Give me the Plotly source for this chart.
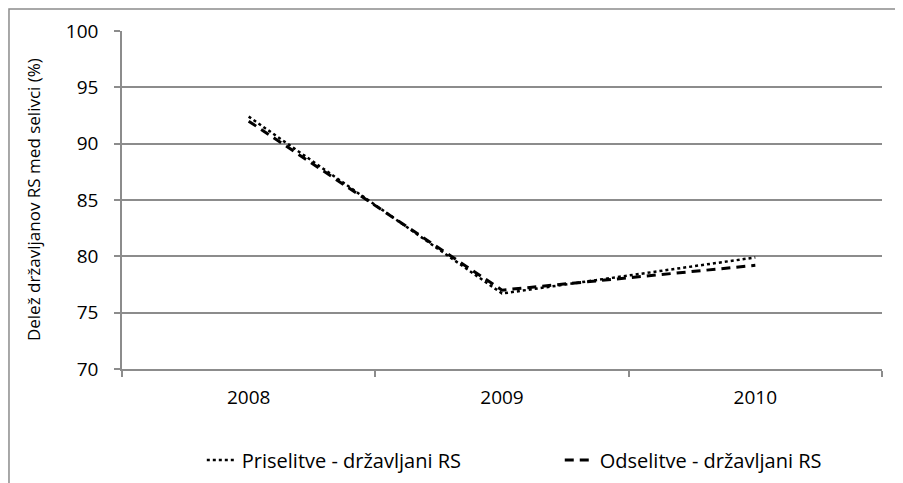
import plotly.graph_objects as go

years = ["2008", "2009", "2010"]
priselitve = [92.4, 76.7, 79.9]
odselitve = [92.0, 77.0, 79.2]
y_ticks = [70, 75, 80, 85, 90, 95, 100]

grid = "#8c8c8c"
fam = "'Open Sans', sans-serif"
font = dict(family=fam, size=19, color="#000000")

fig = go.Figure()
fig.add_trace(go.Scatter(
    x=years, y=priselitve, mode="lines", name="Priselitve - državljani RS",
    line=dict(color="#000000", width=2.5, dash="dot"), legend="legend"))
fig.add_trace(go.Scatter(
    x=years, y=odselitve, mode="lines", name="Odselitve - državljani RS",
    line=dict(color="#000000", width=3, dash="9px,6px"), legend="legend2"))

leg_common = dict(orientation="h", y=-0.269, yanchor="middle", xanchor="left",
                  font=dict(family=fam, size=20, color="#000000"),
                  bgcolor="rgba(0,0,0,0)")

# the page body adds an 8 px offset; margins are chosen so the plot area
# lands where the reference has it
fig.update_layout(
    width=903, height=483,
    margin=dict(l=114, r=29, t=23, b=122, autoexpand=False),
    paper_bgcolor="white", plot_bgcolor="white",
    font=font,
    showlegend=True,
    legend=dict(x=0.105, **leg_common),
    legend2=dict(x=0.576, **leg_common),
    xaxis=dict(type="category", range=[-0.5, 2.5], tickson="boundaries",
               showgrid=False, showline=True, linecolor=grid, linewidth=1.5,
               ticks="outside", ticklen=6, tickcolor=grid, tickwidth=1.5,
               tickfont=dict(size=19), ticklabelstandoff=10, automargin=False),
    yaxis=dict(range=[70, 100], tickvals=y_ticks, showgrid=True, gridcolor=grid,
               gridwidth=1.5, showline=True, linecolor=grid, linewidth=1.5,
               ticks="outside", ticklen=6, tickcolor=grid, tickwidth=1.5,
               tickfont=dict(size=19), ticklabelstandoff=12, zeroline=False,
               automargin=False),
    annotations=[dict(text="Delež državljanov RS med selivci (%)", textangle=-90,
                      xref="paper", yref="paper", x=-0.117, y=0.5,
                      xanchor="center", yanchor="middle", showarrow=False,
                      font=dict(family=fam, size=17, color="#000000"))],
    shapes=[dict(type="rect", xref="paper", yref="paper",
                 x0=-0.1487, x1=1.2, y0=-0.5, y1=1.065,
                 line=dict(color="#8c8c8c", width=1.5), layer="below")],
)

fig.write_html("out.html")
